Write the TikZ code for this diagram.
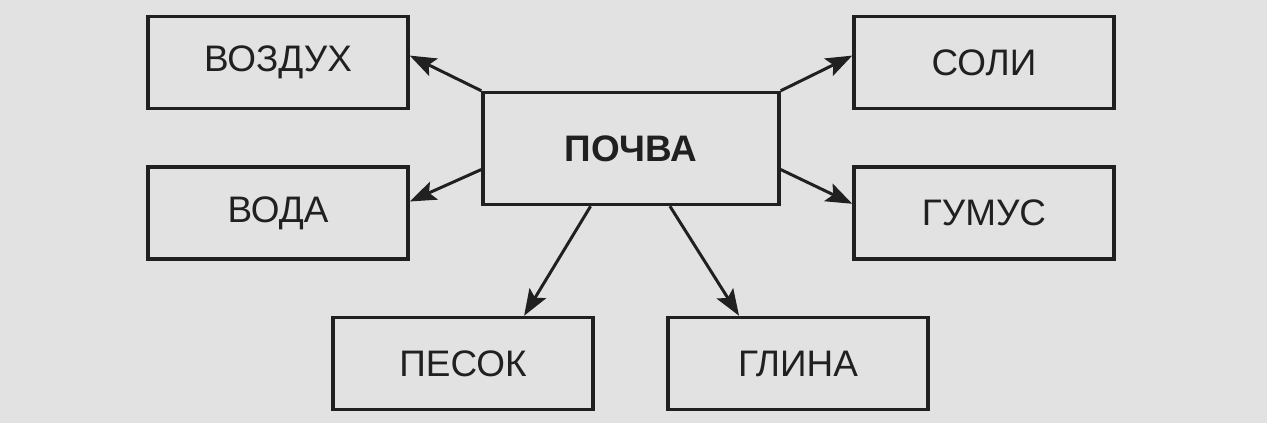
\documentclass[tikz,border=0pt]{standalone}
\usepackage{fontspec}
\setmainfont{Liberation Sans}
\usetikzlibrary{arrows.meta}
\definecolor{scan}{RGB}{226,226,226}
\definecolor{ink}{RGB}{32,32,32}

\begin{document}
\begin{tikzpicture}[x=0.02cm, y=-0.02cm, font=\fontsize{21}{24}\selectfont,
  box/.style={draw=ink, line width=2pt, minimum width=5.2cm, minimum height=1.84cm, inner sep=0pt, text=ink},
  arr/.style={-{Stealth[length=15pt, width=11pt, inset=3pt]}, draw=ink, line width=1.7pt}]
  \fill[scan] (0,0) rectangle (1267,423);
  \useasboundingbox (0,0) rectangle (1267,423);
  \node[box, minimum width=5.92cm, minimum height=2.24cm, font=\fontsize{21}{24}\selectfont\bfseries] (pochva) at (631,148.5) {ПОЧВА};
  \node[box] (vozduh) at (278,62.5) {ВОЗДУХ};
  \node[box] (voda) at (278,213) {ВОДА};
  \node[box] (soli) at (984,62.5) {СОЛИ};
  \node[box] (gumus) at (984,213) {ГУМУС};
  \node[box] (pesok) at (463,363.5) {ПЕСОК};
  \node[box] (glina) at (798,363.5) {ГЛИНА};
  \draw[arr] (pochva.north west) -- (vozduh.3);
  \draw[arr] (pochva.188) -- (voda.5);
  \draw[arr] (pochva.north east) -- (soli.177);
  \draw[arr] (pochva.352) -- (gumus.176);
  \draw[arr] (pochva.235) -- (pesok.38);
  \draw[arr] (pochva.-56) -- (glina.141);
\end{tikzpicture}
\end{document}
